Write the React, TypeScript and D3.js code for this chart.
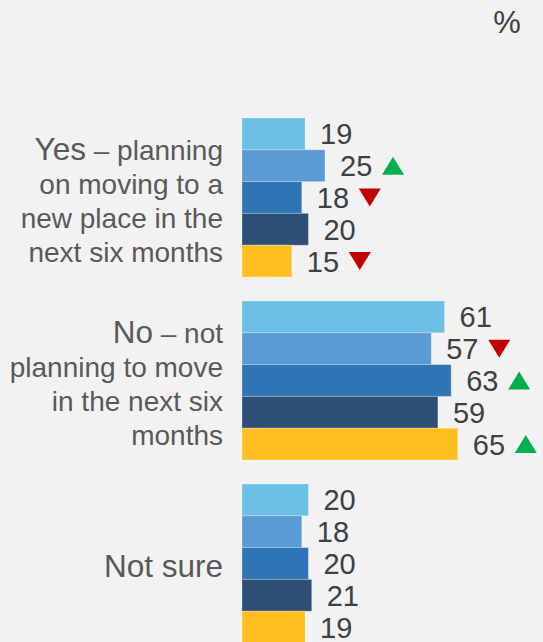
import React from "react";
import * as d3 from "d3";

// survey answers, five waves per answer
const categories = ["yes", "no", "notSure"];

const categoryLead = ["Yes", "No", "Not sure"];
const categoryLines = [
  [" – planning", "on moving to a", "new place in the", "next six months"],
  [" – not", "planning to move", "in the next six", "months"],
  [""],
];

const waves = ["w1", "w2", "w3", "w4", "w5"];
const waveColors = ["#6cc0e5", "#5b9bd5", "#2e75b6", "#2f4e75", "#ffbf1f"];

const wave1 = [19, 61, 20];
const wave2 = [25, 57, 18];
const wave3 = [18, 63, 20];
const wave4 = [20, 59, 21];
const wave5 = [15, 65, 19];

// significant change vs previous wave: "up", "down" or null
const change1 = [null, null, null];
const change2 = ["up", "down", null];
const change3 = ["down", "up", null];
const change4 = [null, null, null];
const change5 = ["down", "up", null];

const values = [wave1, wave2, wave3, wave4, wave5];
const changes = [change1, change2, change3, change4, change5];

const W = 543;
const H = 642;

export default function App() {
  const x = d3.scaleLinear().domain([0, 100]).range([242, 574]);
  const y = d3
    .scaleBand()
    .domain(categories)
    .range([118, 643])
    .paddingInner(24 / 183)
    .paddingOuter(0);
  const yInner = d3.scaleBand().domain(waves).range([0, y.bandwidth()]);

  const lineH = 33.7;

  return (
    <svg
      width={W}
      height={H}
      style={{ position: "absolute", left: 0, top: 0, fontFamily: "'Liberation Sans', Arial, sans-serif" }}
    >
      <rect x={0} y={0} width={W} height={H} fill="#f2f2f2" />
      <text x={507} y={33} fontSize={31} fill="#404040" textAnchor="middle">
        %
      </text>

      {categories.map((c, ci) => {
        const cy = (y(c) as number) + y.bandwidth() / 2;
        const lines = categoryLines[ci];
        const first = cy - ((lines.length - 1) / 2) * lineH + 13.5;
        return (
          <g key={c}>
            {lines.map((ln, li) => (
              <text
                key={li}
                x={223}
                y={first + li * lineH}
                textAnchor="end"
                fill="#595959"
                fontSize={28}
              >
                {li === 0 ? <tspan fontSize={31.5}>{categoryLead[ci]}</tspan> : null}
                {ln}
              </text>
            ))}
            {waves.map((w, wi) => {
              const v = values[wi][ci];
              const by = (y(c) as number) + (yInner(w) as number);
              const bh = yInner.bandwidth();
              const mid = by + bh / 2;
              const ch = changes[wi][ci];
              const tx = x(v) + 68;
              return (
                <g key={w}>
                  <rect
                    x={x(0)}
                    y={by}
                    width={x(v) - x(0)}
                    height={bh}
                    fill={waveColors[wi]}
                    stroke="#ffffff"
                    strokeOpacity={0.25}
                    strokeWidth={1}
                  />
                  <text x={x(v) + 15} y={mid + 10.5} fontSize={29} fill="#404040">
                    {v}
                  </text>
                  {ch === "up" && (
                    <path
                      d={`M${tx - 11},${mid + 9}L${tx + 11},${mid + 9}L${tx},${mid - 9}Z`}
                      fill="#00b050"
                    />
                  )}
                  {ch === "down" && (
                    <path
                      d={`M${tx - 11},${mid - 9}L${tx + 11},${mid - 9}L${tx},${mid + 9}Z`}
                      fill="#c00000"
                    />
                  )}
                </g>
              );
            })}
          </g>
        );
      })}
    </svg>
  );
}
